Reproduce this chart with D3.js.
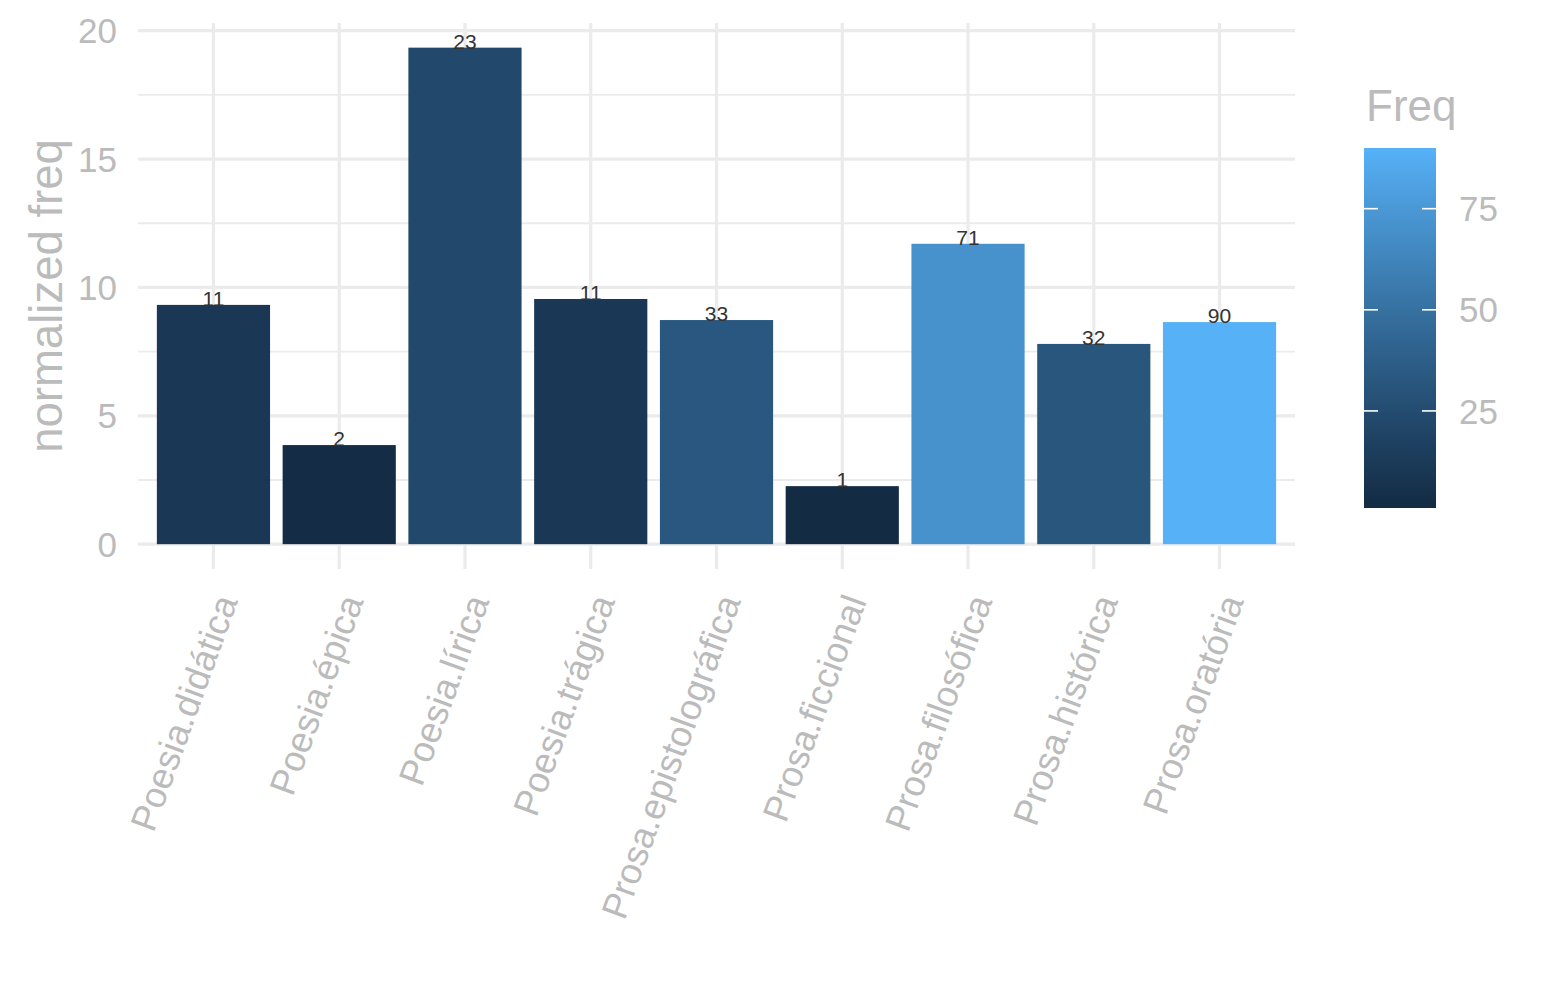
<!DOCTYPE html>
<html>
<head>
<meta charset="utf-8">
<script src="https://cdn.jsdelivr.net/npm/d3@7"></script>
<style>
  body { margin: 0; background: #fff; }
  svg { font-family: "Liberation Sans", Arial, sans-serif; }
</style>
</head>
<body>
<svg id="chart"></svg>
<script>
var categories = ["Poesia.didática", "Poesia.épica", "Poesia.lírica", "Poesia.trágica",
    "Prosa.epistolográfica", "Prosa.ficcional", "Prosa.filosófica", "Prosa.histórica", "Prosa.oratória"];
var normFreq = [9.32, 3.86, 19.34, 9.55, 8.73, 2.26, 11.70, 7.80, 8.65];
var freq = [11, 2, 23, 11, 33, 1, 71, 32, 90];
var yTicks = [0, 5, 10, 15, 20];
var yMinor = [2.5, 7.5, 12.5, 17.5];
var legendTicks = [25, 50, 75];

var svgWidth = 1545, svgHeight = 1000;
var panelLeft = 138, panelRight = 1295, panelTop = 23, panelBottom = 569;
var textGrey = "#BBBBBB", gridGrey = "#EBEBEB";

var svg = d3.select("#chart")
    .attr("width", svgWidth)
    .attr("height", svgHeight);

var xScale = d3.scaleBand()
    .domain(categories)
    .range([panelLeft, panelRight])
    .paddingInner(0.1)
    .paddingOuter(0.15);

var yMax = d3.max(normFreq);
var yScale = d3.scaleLinear()
    .domain([-yMax * 0.05, 20.3])
    .range([panelBottom, panelTop]);

var colour = d3.scaleLinear()
    .domain([d3.min(freq), d3.max(freq)])
    .range(["#132B43", "#56B1F7"])
    .interpolate(d3.interpolateLab);

function xMid(d){ return xScale(d) + xScale.bandwidth() / 2; }

// grid
svg.selectAll(".minor")
    .data(yMinor)
    .enter()
    .append("line")
    .attr("x1", panelLeft).attr("x2", panelRight)
    .attr("y1", function(d){ return yScale(d); })
    .attr("y2", function(d){ return yScale(d); })
    .attr("stroke", gridGrey)
    .attr("stroke-width", 1.8);

svg.selectAll(".major")
    .data(yTicks)
    .enter()
    .append("line")
    .attr("x1", panelLeft).attr("x2", panelRight)
    .attr("y1", function(d){ return yScale(d); })
    .attr("y2", function(d){ return yScale(d); })
    .attr("stroke", gridGrey)
    .attr("stroke-width", 3.2);

svg.selectAll(".vgrid")
    .data(categories)
    .enter()
    .append("line")
    .attr("x1", xMid)
    .attr("x2", xMid)
    .attr("y1", panelTop).attr("y2", panelBottom)
    .attr("stroke", gridGrey)
    .attr("stroke-width", 3.2);

// bars
svg.selectAll(".bar")
    .data(categories)
    .enter()
    .append("rect")
    .attr("x", function(d){ return xScale(d); })
    .attr("width", xScale.bandwidth())
    .attr("y", function(d, i){ return yScale(normFreq[i]); })
    .attr("height", function(d, i){ return yScale(0) - yScale(normFreq[i]); })
    .attr("fill", function(d, i){ return colour(freq[i]); });

// bar labels
svg.selectAll(".lbl")
    .data(categories)
    .enter()
    .append("text")
    .attr("x", xMid)
    .attr("y", function(d, i){ return yScale(normFreq[i]) + 1; })
    .attr("text-anchor", "middle")
    .attr("font-size", "21px")
    .attr("fill", "#333333")
    .text(function(d, i){ return freq[i]; });

// y axis labels
svg.selectAll(".ytick")
    .data(yTicks)
    .enter()
    .append("text")
    .attr("x", 117)
    .attr("y", function(d){ return yScale(d); })
    .attr("dy", "0.36em")
    .attr("text-anchor", "end")
    .attr("font-size", "35px")
    .attr("fill", textGrey)
    .text(function(d){ return d; });

// x axis labels
svg.selectAll(".xtick")
    .data(categories)
    .enter()
    .append("text")
    .attr("transform", function(d){
        return "translate(" + xMid(d) + ",592) rotate(-70)";
    })
    .attr("dy", "0.72em")
    .attr("text-anchor", "end")
    .attr("font-size", "36.5px")
    .attr("fill", textGrey)
    .text(function(d){ return d; });

// y title
svg.append("text")
    .attr("transform", "translate(62," + ((panelTop + panelBottom) / 2) + ") rotate(-90)")
    .attr("text-anchor", "middle")
    .attr("font-size", "45.5px")
    .attr("fill", textGrey)
    .text("normalized freq");

// legend
var legTop = 148, legBottom = 508, legLeft = 1364, legW = 72;
var legScale = d3.scaleLinear()
    .domain([d3.min(freq), d3.max(freq)])
    .range([legBottom, legTop]);

var grad = svg.append("defs").append("linearGradient")
    .attr("id", "freqgrad")
    .attr("x1", 0).attr("y1", 1).attr("x2", 0).attr("y2", 0);
d3.range(0, 1.01, 0.1).forEach(function(t){
    grad.append("stop")
        .attr("offset", t)
        .attr("stop-color", colour(legScale.invert(legBottom - t * (legBottom - legTop))));
});

svg.append("text")
    .attr("x", 1366)
    .attr("y", 121)
    .attr("font-size", "44px")
    .attr("fill", textGrey)
    .text("Freq");

svg.append("rect")
    .attr("x", legLeft)
    .attr("y", legTop)
    .attr("width", legW)
    .attr("height", legBottom - legTop)
    .attr("fill", "url(#freqgrad)");

var legTick = svg.selectAll(".legtick")
    .data(legendTicks)
    .enter()
    .append("g");

legTick.append("line")
    .attr("x1", legLeft).attr("x2", legLeft + 14)
    .attr("y1", function(d){ return legScale(d); })
    .attr("y2", function(d){ return legScale(d); })
    .attr("stroke", "#ffffff")
    .attr("stroke-width", 1.6);

legTick.append("line")
    .attr("x1", legLeft + legW - 14).attr("x2", legLeft + legW)
    .attr("y1", function(d){ return legScale(d); })
    .attr("y2", function(d){ return legScale(d); })
    .attr("stroke", "#ffffff")
    .attr("stroke-width", 1.6);

legTick.append("text")
    .attr("x", 1459)
    .attr("y", function(d){ return legScale(d); })
    .attr("dy", "0.36em")
    .attr("font-size", "35px")
    .attr("fill", textGrey)
    .text(function(d){ return d; });
</script>
</body>
</html>
